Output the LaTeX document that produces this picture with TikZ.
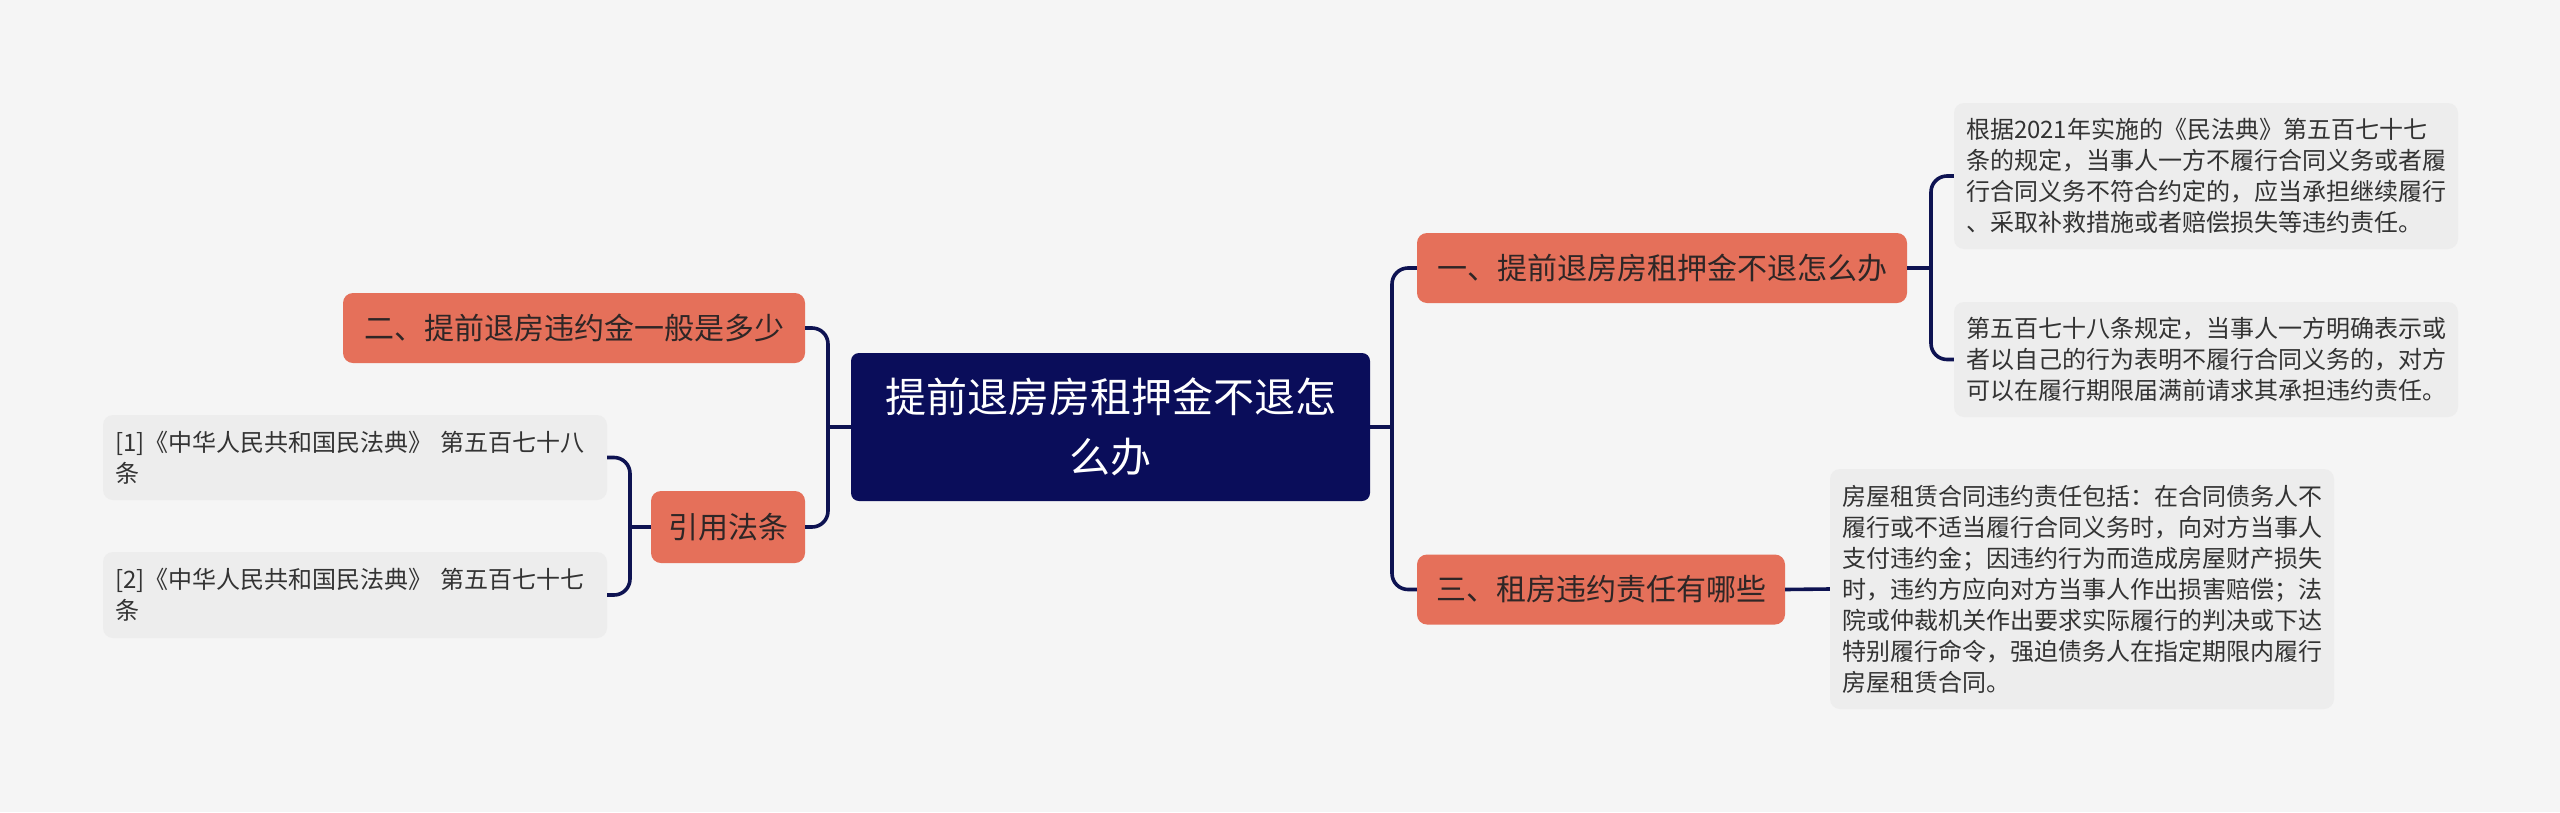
\documentclass[tikz,border=0pt]{standalone}
\usepackage{fontspec}
\setmainfont{Noto Sans CJK SC}
\definecolor{bg}{HTML}{F5F5F5}
\definecolor{leafbg}{HTML}{EDEDED}
\definecolor{leaftext}{HTML}{333333}
\definecolor{orange}{HTML}{E5705A}
\definecolor{orangetext}{HTML}{2E2626}
\definecolor{navy}{HTML}{0A0D5A}
\definecolor{linecol}{HTML}{0E1352}
\tikzset{
  leaf/.style={fill=leafbg, rounded corners=10pt, inner xsep=12pt, inner ysep=0pt,
    align=left, text=leaftext, font=\fontsize{24}{31}\selectfont, text width=480pt},
  topic/.style={fill=orange, rounded corners=10pt, inner sep=0pt, align=center,
    text=orangetext, font=\fontsize{30}{36}\selectfont, minimum height=70pt},
  rootbox/.style={fill=navy, rounded corners=8pt, inner sep=0pt, align=center,
    text=white, font=\fontsize{41}{60}\selectfont, minimum width=519pt, minimum height=148pt},
  conn/.style={draw=linecol, line width=3.6pt},
  elbow/.style={conn, rounded corners=16pt}
}
\begin{document}
\begin{tikzpicture}[x=1pt,y=-1pt]
\fill[bg] (0,0) rectangle (2560,812);
\useasboundingbox (0,0) rectangle (2560,812);

\node[rootbox] (root) at (1110.5,427) {提前退房房租押金不退怎\\么办};

\node[topic, minimum width=490pt] (n1) at (1662,268) {一、提前退房房租押金不退怎么办};
\node[topic, minimum width=368pt] (n3) at (1601,589.5) {三、租房违约责任有哪些};
\node[topic, minimum width=462pt] (n2) at (574,328) {二、提前退房违约金一般是多少};
\node[topic, minimum width=154pt, minimum height=72pt] (n4) at (728,527) {引用法条};

\node[leaf, minimum height=146pt] (t1) at (2206,176) {根据2021年实施的《民法典》第五百七十七\\条的规定，当事人一方不履行合同义务或者履\\行合同义务不符合约定的，应当承担继续履行\\、采取补救措施或者赔偿损失等违约责任。};
\node[leaf, minimum height=115pt] (t2) at (2206,359.5) {第五百七十八条规定，当事人一方明确表示或\\者以自己的行为表明不履行合同义务的，对方\\可以在履行期限届满前请求其承担违约责任。};
\node[leaf, minimum height=240pt] (t3) at (2082,589) {房屋租赁合同违约责任包括：在合同债务人不\\履行或不适当履行合同义务时，向对方当事人\\支付违约金；因违约行为而造成房屋财产损失\\时，违约方应向对方当事人作出损害赔偿；法\\院或仲裁机关作出要求实际履行的判决或下达\\特别履行命令，强迫债务人在指定期限内履行\\房屋租赁合同。};
\node[leaf, minimum height=85pt] (L1) at (355,457.5) {[1]《中华人民共和国民法典》 第五百七十八\\条};
\node[leaf, minimum height=86pt] (L2) at (355,595) {[2]《中华人民共和国民法典》 第五百七十七\\条};

\coordinate (jl) at (828,427);
\coordinate (jr) at (1392,427);
\coordinate (j1) at (1931,268);
\coordinate (j4) at (630,527);

\draw[conn] (root.west) -- (jl);
\draw[elbow] (jl) |- (n2.east);
\draw[elbow] (jl) |- (n4.east);

\draw[conn] (root.east) -- (jr);
\draw[elbow] (jr) |- (n1.west);
\draw[elbow] (jr) |- (n3.west);

\draw[conn] (n1.east) -- (j1);
\draw[elbow] (j1) |- (t1.west);
\draw[elbow] (j1) |- (t2.west);

\draw[conn] (n3.east) -- (t3.west);

\draw[conn] (n4.west) -- (j4);
\draw[elbow] (j4) |- (L1.east);
\draw[elbow] (j4) |- (L2.east);
\end{tikzpicture}
\end{document}
